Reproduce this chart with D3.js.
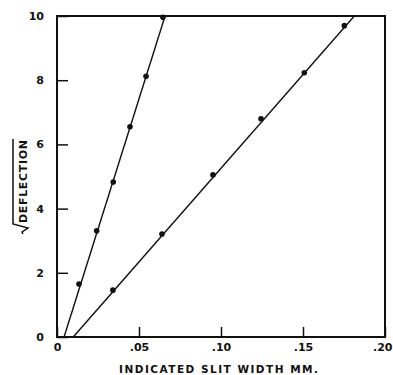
<!DOCTYPE html>
<html>
<head>
<meta charset="utf-8">
<script src="https://cdn.jsdelivr.net/npm/d3@7/dist/d3.min.js"></script>
<style>
  html, body { margin: 0; padding: 0; background: #fff; }
  svg { display: block; }
  text { font-family: "DejaVu Sans", sans-serif; fill: #111; }
</style>
</head>
<body>
<svg id="chart" width="393" height="375"></svg>
<script>
// Measured points: slit width (mm) vs. square root of deflection
const steepX = [0.0134, 0.0242, 0.0343, 0.0445, 0.0543, 0.0646];
const steepY = [1.65, 3.31, 4.83, 6.55, 8.12, 9.96];
const shallowX = [0.0341, 0.0640, 0.0951, 0.1244, 0.1508, 0.1752];
const shallowY = [1.46, 3.21, 5.05, 6.80, 8.23, 9.70];

// Fitted straight lines (endpoints, data units)
const steepFitX = [0.0043, 0.0659];
const steepFitY = [0, 10];
const shallowFitX = [0.0099, 0.1813];
const shallowFitY = [0, 10];

// Axis ticks and their labels
const xTicks = [0, 0.05, 0.10, 0.15, 0.20];
const xTickLabels = ["0", ".05", ".10", ".15", ".20"];
const yTicks = [0, 2, 4, 6, 8, 10];
const yTickLabels = ["0", "2", "4", "6", "8", "10"];

const xTitle = "INDICATED SLIT WIDTH MM.";
const yTitle = "DEFLECTION";

const svg = d3.select("#chart");
const plotL = 57, plotR = 385, plotT = 16, plotB = 337;

const x = d3.scaleLinear().domain([0, 0.2]).range([plotL, plotR]);
const y = d3.scaleLinear().domain([0, 10]).range([plotB, plotT]);

// Axes with inward ticks
const xAxis = d3.axisBottom(x)
  .tickValues(xTicks)
  .tickFormat((d, i) => xTickLabels[i])
  .tickSizeInner(-10).tickSizeOuter(0).tickPadding(6);
const yAxis = d3.axisLeft(y)
  .tickValues(yTicks)
  .tickFormat((d, i) => yTickLabels[i])
  .tickSizeInner(-11).tickSizeOuter(0).tickPadding(13);

const gx = svg.append("g").attr("transform", `translate(0,${plotB})`).call(xAxis);
const gy = svg.append("g").attr("transform", `translate(${plotL},0)`).call(yAxis);
[gx, gy].forEach(g => {
  g.select(".domain").remove();
  g.selectAll(".tick line").attr("stroke", "#111").attr("stroke-width", 1.5);
  g.selectAll(".tick text")
    .style("font-family", "'DejaVu Sans', sans-serif")
    .style("font-size", "11px").style("font-weight", "bold").attr("fill", "#111");
});
// keep the last x label inside the page edge
gx.selectAll(".tick text").filter(d => d === xTicks[xTicks.length - 1])
  .attr("text-anchor", "end").attr("x", 7);

// Frame
svg.append("rect")
  .attr("x", plotL).attr("y", plotT)
  .attr("width", plotR - plotL).attr("height", plotB - plotT)
  .attr("fill", "none").attr("stroke", "#111").attr("stroke-width", 2);

// Fitted lines
const line = d3.line().x(d => x(d[0])).y(d => y(d[1]));
[[steepFitX, steepFitY], [shallowFitX, shallowFitY]].forEach(([fx, fy]) => {
  svg.append("path")
    .attr("d", line(fx.map((v, i) => [v, fy[i]])))
    .attr("fill", "none").attr("stroke", "#111").attr("stroke-width", 1.4);
});

// Data points
[[steepX, steepY], [shallowX, shallowY]].forEach(([px, py]) => {
  svg.append("g").selectAll("circle")
    .data(px.map((v, i) => [v, py[i]]))
    .join("circle")
    .attr("cx", d => x(d[0])).attr("cy", d => y(d[1]))
    .attr("r", 2.8).attr("fill", "#111");
});

// X axis title
svg.append("text")
  .attr("x", 119).attr("y", 373)
  .attr("textLength", 199).attr("lengthAdjust", "spacing")
  .style("font-size", "10.5px").style("font-weight", "bold")
  .text(xTitle);

// Y axis title: square root of deflection, drawn rotated
const gt = svg.append("g").attr("transform", "translate(27,0) rotate(-90)");
gt.append("text")
  .attr("x", -223).attr("y", 0)
  .attr("textLength", 83).attr("lengthAdjust", "spacing")
  .style("font-size", "11px").style("font-weight", "bold")
  .text(yTitle);
gt.append("path")
  .attr("d", "M-139,-14 L-224,-14 L-228,1 L-232,-5 L-234,-4")
  .attr("fill", "none").attr("stroke", "#111").attr("stroke-width", 1.5);
</script>
</body>
</html>
